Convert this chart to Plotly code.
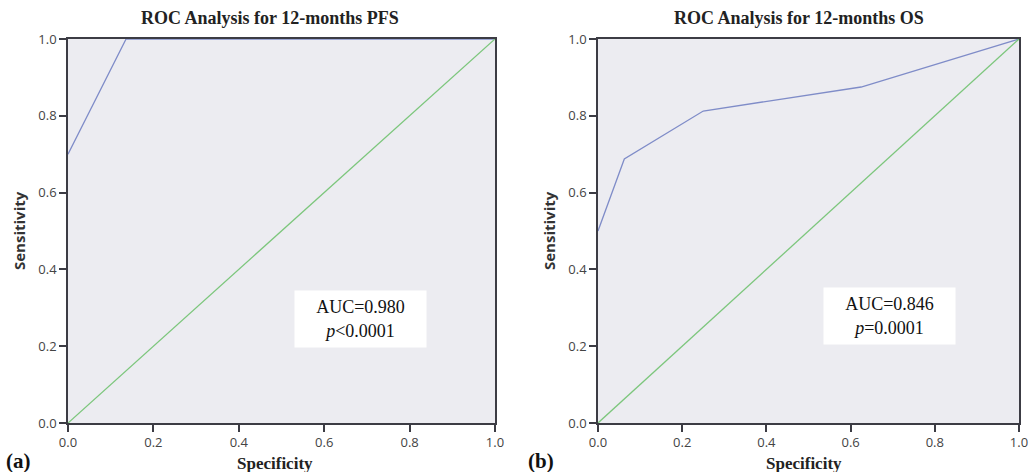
import plotly.graph_objects as go

# Panel (a) 12-months PFS
pfs_spec = [0.0, 0.136, 1.0]
pfs_sens = [0.70, 1.0, 1.0]
# Panel (b) 12-months OS
os_spec = [0.0, 0.0625, 0.25, 0.625, 1.0]
os_sens = [0.50, 0.6875, 0.8125, 0.875, 1.0]
ref_line = [0.0, 1.0]

tick_vals = [0.0, 0.2, 0.4, 0.6, 0.8, 1.0]
tick_text = ["0.0", "0.2", "0.4", "0.6", "0.8", "1.0"]

titles = ["ROC Analysis for 12-months PFS", "ROC Analysis for 12-months OS"]
auc_text = ["AUC=0.980<br><i>p</i><0.0001", "AUC=0.846<br><i>p</i>=0.0001"]
panel_labels = ["(a)", "(b)"]

ROC_COLOR = "#7F8CC8"
REF_COLOR = "#7CC67C"
BG = "#ECECF1"
AX = "#3C3C44"
SERIF = "Liberation Serif"
SANS = "Open Sans"

fig = go.Figure()
fig.add_trace(go.Scatter(x=pfs_spec, y=pfs_sens, mode="lines", line=dict(color=ROC_COLOR, width=1.3),
                         xaxis="x", yaxis="y", showlegend=False))
fig.add_trace(go.Scatter(x=ref_line, y=ref_line, mode="lines", line=dict(color=REF_COLOR, width=1.3),
                         xaxis="x", yaxis="y", showlegend=False))
fig.add_trace(go.Scatter(x=os_spec, y=os_sens, mode="lines", line=dict(color=ROC_COLOR, width=1.3),
                         xaxis="x2", yaxis="y2", showlegend=False))
fig.add_trace(go.Scatter(x=ref_line, y=ref_line, mode="lines", line=dict(color=REF_COLOR, width=1.3),
                         xaxis="x2", yaxis="y2", showlegend=False))

W, H = 1035, 472
xd1 = [68 / W, 495 / W]
xd2 = [598 / W, 1019 / W]
yd = [(H - 423) / H, (H - 39) / H]

def axis_common(domain, anchor):
    return dict(domain=domain, anchor=anchor, range=[0, 1], tickvals=tick_vals, ticktext=tick_text,
                showline=True, linecolor=AX, linewidth=1.5, mirror=True, ticks="outside",
                ticklen=7, tickwidth=1.5, tickcolor=AX, showgrid=False, zeroline=False,
                automargin=False,
                tickfont=dict(family=SANS, size=13, color="#444"), fixedrange=True)

fig.update_layout(
    width=W, height=H, margin=dict(l=0, r=0, t=0, b=0),
    paper_bgcolor="white", plot_bgcolor=BG,
    xaxis=axis_common(xd1, "y"),
    yaxis=axis_common(yd, "x"),
    xaxis2=axis_common(xd2, "y2"),
    yaxis2=axis_common(yd, "x2"),
)

title_cx = [270, 799]
xlab_cx = [275, 804]
anns = []
for i, xd in enumerate([xd1, xd2]):
    anns.append(dict(text="<b>" + titles[i] + "</b>", x=title_cx[i] / W, y=(H - 18) / H, xref="paper", yref="paper",
                     showarrow=False, font=dict(family=SERIF, size=18, color="#222"), xanchor="center", yanchor="middle"))
    anns.append(dict(text="<b>Specificity</b>", x=xlab_cx[i] / W, y=(H - 463) / H, xref="paper", yref="paper",
                     showarrow=False, font=dict(family=SERIF, size=17, color="#222"), xanchor="center", yanchor="middle"))
    anns.append(dict(text="<b>Sensitivity</b>", x=(xd[0] * W - 49) / W, y=(yd[0] + yd[1]) / 2, xref="paper", yref="paper",
                     textangle=-90, showarrow=False, font=dict(family=SANS, size=15, color="#333"),
                     xanchor="center", yanchor="middle"))
    anns.append(dict(text="<b>" + panel_labels[i] + "</b>", x=(4 + 522 * i) / W, y=(H - 461) / H, xref="paper", yref="paper",
                     showarrow=False, font=dict(family=SERIF, size=21, color="#111"), xanchor="left", yanchor="middle"))

box_pos = [(360.5, 319), (889.5, 316)]
for i, (bx, by) in enumerate(box_pos):
    anns.append(dict(text=auc_text[i], x=bx / W, y=(H - by) / H, xref="paper", yref="paper",
                     showarrow=False, font=dict(family=SERIF, size=18, color="#111"), bgcolor="white",
                     width=129, height=54, align="center", xanchor="center", yanchor="middle"))

fig.update_layout(annotations=anns)
fig.write_html("out.html")
